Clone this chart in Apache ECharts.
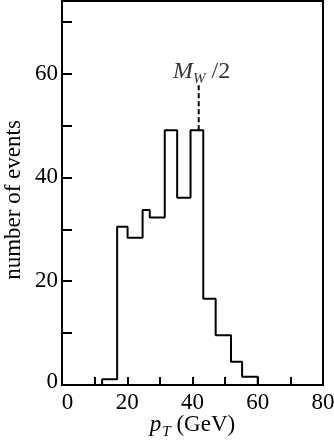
<!DOCTYPE html>
<html>
<head>
<meta charset="utf-8">
<script src="https://cdn.jsdelivr.net/npm/echarts@6/dist/echarts.min.js"></script>
<style>
  html, body { margin: 0; padding: 0; background: #fff; }
  #chart { width: 334px; height: 443px; }
</style>
</head>
<body>
<div id="chart"></div>
<script>
// bin edges (GeV) and counts
var binEdges = [12.3, 16.9, 20.1, 24.7, 26.9, 31.5, 35.3, 39.4, 43.3, 47.1, 51.8, 55.2, 60.0];
var binCounts = [1.1, 30.5, 28.4, 33.7, 32.3, 49.1, 36.1, 49.1, 16.6, 9.6, 4.5, 1.6];
var xTicks = [0, 20, 40, 60, 80];
var yTicks = [0, 20, 40, 60];
var mwHalf = 41.9;
var mwLine = [49.1, 58];

var font = "Liberation Serif";

// outline of the step histogram
var outline = [[binEdges[0], 0]];
for (var i = 0; i < binCounts.length; i++) {
  outline.push([binEdges[i], binCounts[i]]);
  outline.push([binEdges[i + 1], binCounts[i]]);
}
outline.push([binEdges[binEdges.length - 1], 0]);

var chart = echarts.init(document.getElementById("chart"));

var option = {
  animation: false,
  grid: {
    left: 62,
    right: 11,
    top: 1,
    bottom: 58,
    containLabel: false,
    outerBoundsMode: "none",
    show: true,
    borderColor: "#000",
    borderWidth: 2,
    backgroundColor: "transparent"
  },
  xAxis: {
    type: "value",
    min: xTicks[0],
    max: xTicks[xTicks.length - 1],
    interval: 20,
    name: "{p|p}{t|T}{g| (GeV)}",
    nameLocation: "middle",
    nameGap: 28,
    nameMoveOverlap: false,
    nameTextStyle: {
      rich: {
        p: { fontFamily: font, fontStyle: "italic", fontSize: 23, color: "#000", verticalAlign: "top" },
        t: { fontFamily: font, fontStyle: "italic", fontSize: 15, color: "#000", padding: [12, 0, 0, 1], verticalAlign: "top" },
        g: { fontFamily: font, fontSize: 23, color: "#000", verticalAlign: "top" }
      }
    },
    axisLine: { show: true, lineStyle: { color: "#000", width: 2 } },
    axisTick: { show: true, inside: true, length: 8, lineStyle: { color: "#000", width: 2 } },
    minorTick: { show: true, splitNumber: 2, length: 8, lineStyle: { color: "#000", width: 2 } },
    splitLine: { show: false },
    axisLabel: {
      margin: 6,
      fontFamily: font,
      fontSize: 23,
      color: "#000",
      formatter: function (v) { return v === 0 ? "{z|0}" : String(v); },
      rich: { z: { fontFamily: font, fontSize: 23, color: "#000", padding: [0, 0, 0, 11] } }
    }
  },
  yAxis: {
    type: "value",
    min: yTicks[0],
    max: 74,
    interval: 20,
    name: "number of events",
    nameLocation: "middle",
    nameGap: 37,
    nameMoveOverlap: false,
    nameTextStyle: { fontFamily: font, fontSize: 23, color: "#000", padding: [0, 14, 0, 0] },
    axisLine: { show: true, lineStyle: { color: "#000", width: 2 } },
    axisTick: { show: true, inside: true, length: 10, lineStyle: { color: "#000", width: 2 } },
    minorTick: { show: true, splitNumber: 2, length: 10, lineStyle: { color: "#000", width: 2 } },
    splitLine: { show: false },
    axisLabel: {
      margin: 4,
      showMaxLabel: false,
      fontFamily: font,
      fontSize: 23,
      color: "#000",
      formatter: function (v) { return v === 0 ? "{z|0}" : String(v); },
      rich: { z: { fontFamily: font, fontSize: 23, color: "#000", padding: [0, 0, 7, 0] } }
    }
  },
  series: [
    {
      type: "line",
      data: outline,
      symbol: "none",
      lineStyle: { color: "#000", width: 2 },
      z: 3
    },
    {
      type: "line",
      data: [[mwHalf, mwLine[0]], [mwHalf, mwLine[1]]],
      symbol: "none",
      lineStyle: { color: "#000", width: 2, type: [5, 3] }
    },
    {
      type: "scatter",
      data: [[mwHalf, mwLine[1]]],
      symbolSize: 0,
      label: {
        show: true,
        position: "top",
        distance: 0,
        offset: [3, 3],
        formatter: "{m|M}{w|W}{s| /2}",
        rich: {
          m: { fontFamily: font, fontStyle: "italic", fontSize: 24, color: "#000", verticalAlign: "top" },
          w: { fontFamily: font, fontStyle: "italic", fontSize: 15, color: "#000", padding: [12, 0, 0, 0], verticalAlign: "top" },
          s: { fontFamily: font, fontSize: 24, color: "#000", verticalAlign: "top" }
        }
      }
    }
  ]
};

chart.setOption(option);
</script>
</body>
</html>
